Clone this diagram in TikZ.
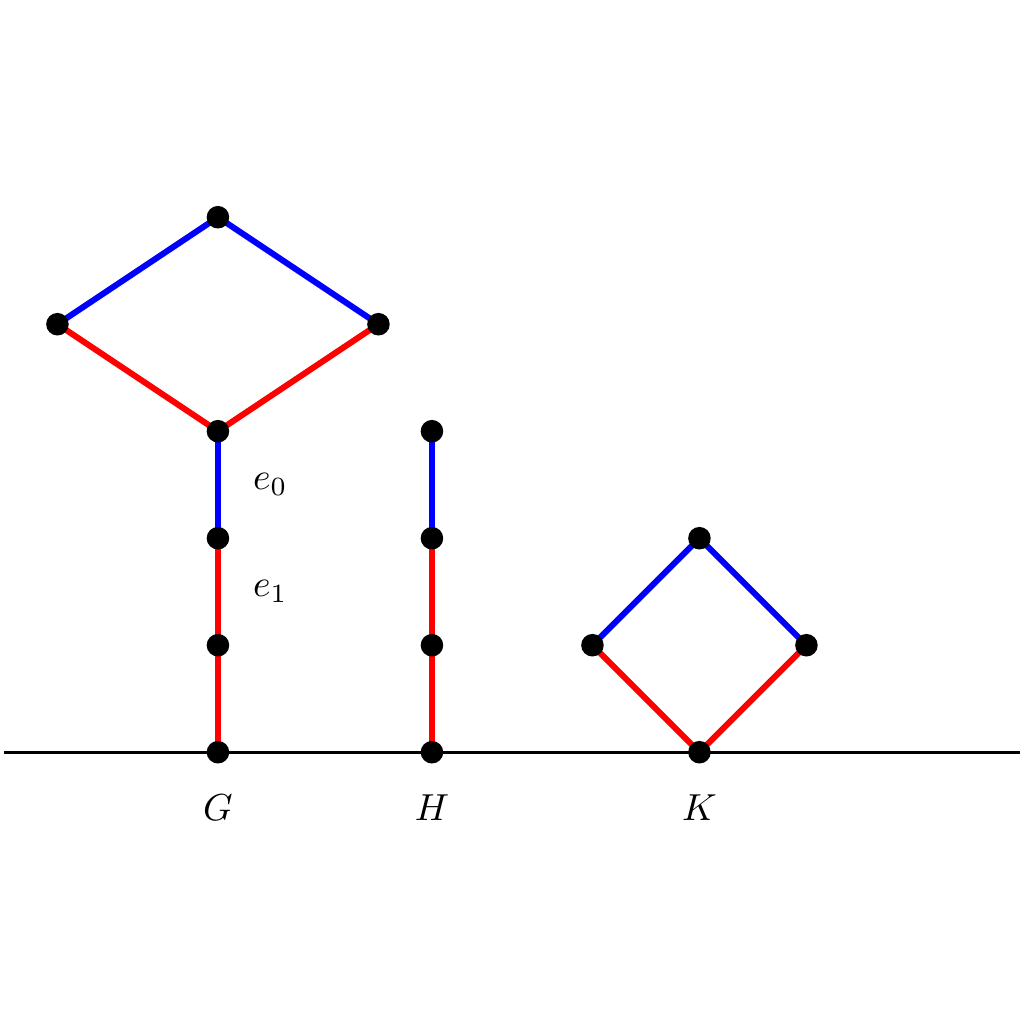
\documentclass[tikz,border=0pt]{standalone}
\begin{document}
\begin{tikzpicture}[
  vtx/.style={circle,fill=black,inner sep=0pt,minimum size=6pt},
  bl/.style={draw=blue,line width=1.6pt},
  rd/.style={draw=red,line width=1.6pt},
  lbl/.style={inner sep=0pt}
]
\useasboundingbox (-2.037,-2.54) rectangle (7.533,7.03);
% coordinates for vertices
\coordinate (G0) at (0,0);
\coordinate (G1) at (0,1);
\coordinate (G2) at (0,2);
\coordinate (G3) at (0,3);
\coordinate (GL) at (-1.5,4);
\coordinate (GR) at (1.5,4);
\coordinate (GT) at (0,5);
\coordinate (H0) at (2,0);
\coordinate (H1) at (2,1);
\coordinate (H2) at (2,2);
\coordinate (H3) at (2,3);
\coordinate (K0) at (4.5,0);
\coordinate (KL) at (3.5,1);
\coordinate (KR) at (5.5,1);
\coordinate (KT) at (4.5,2);
\coordinate (L) at (-2,0);
\coordinate (R) at (7.5,0);
\draw[line width=0.75pt] (L) -- (R);
\draw[rd] (G0) -- (G1);
\draw[rd] (G1) -- (G2);
\draw[bl] (G2) -- (G3);
\draw[rd] (G3) -- (GL);
\draw[rd] (G3) -- (GR);
\draw[bl] (GL) -- (GT);
\draw[bl] (GR) -- (GT);
\draw[rd] (H0) -- (H1);
\draw[rd] (H1) -- (H2);
\draw[bl] (H2) -- (H3);
\draw[rd] (K0) -- (KL);
\draw[rd] (K0) -- (KR);
\draw[bl] (KL) -- (KT);
\draw[bl] (KR) -- (KT);
\foreach \v in {G0,G1,G2,G3,GL,GR,GT,H0,H1,H2,H3,K0,KL,KR,KT}
  \node[vtx] (n\v) at (\v) {};
\node[lbl] (e0) at (0.49,2.5) {$e_0$};
\node[lbl] (e1) at (0.49,1.5) {$e_1$};
\node[lbl] (lg) at (0,-0.52) {$G$};
\node[lbl] (lh) at (2,-0.52) {$H$};
\node[lbl] (lk) at (4.5,-0.52) {$K$};
\end{tikzpicture}
\end{document}
